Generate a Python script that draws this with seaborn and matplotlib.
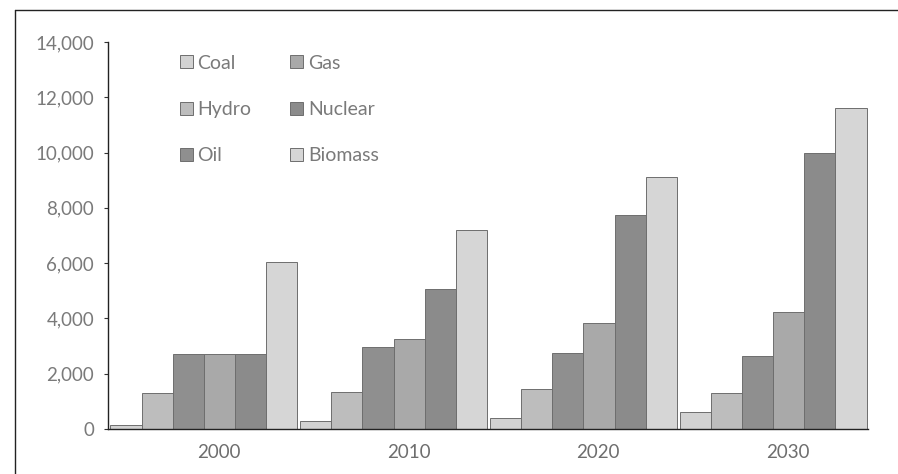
import matplotlib
matplotlib.use("Agg")
import matplotlib.pyplot as plt
import matplotlib.transforms as mtransforms
from matplotlib.lines import Line2D
import pandas as pd
import seaborn as sns

years = ["2000", "2010", "2020", "2030"]
sources = ["Coal", "Hydro", "Oil", "Gas", "Nuclear", "Biomass"]
coal = [150, 300, 400, 600]
hydro = [1300, 1350, 1450, 1300]
oil = [2700, 2950, 2750, 2650]
gas = [2700, 3250, 3850, 4250]
nuclear = [2700, 5050, 7750, 10000]
biomass = [6050, 7200, 9100, 11600]
y_ticks = [0, 2000, 4000, 6000, 8000, 10000, 12000, 14000]
shades = ["#d2d2d2", "#bdbdbd", "#8f8f8f", "#a9a9a9", "#8b8b8b", "#d6d6d6"]

series = [coal, hydro, oil, gas, nuclear, biomass]
df = pd.DataFrame(
    [(y, s, v) for s, vals in zip(sources, series) for y, v in zip(years, vals)],
    columns=["year", "source", "value"],
)

sns.set_theme(style="white")
plt.rcParams["font.family"] = ["Lato", "DejaVu Sans"]

fig = plt.figure(figsize=(8.98, 4.74), dpi=100)
ax = fig.add_axes([108 / 898, 1 - 429 / 474, 760 / 898, 387 / 474])

sns.barplot(
    data=df, x="year", y="value", hue="source", order=years, hue_order=sources,
    palette=shades, width=0.985, gap=0, edgecolor="#6e6e6e", linewidth=0.7,
    saturation=1, ax=ax,
)

ax.set_xlim(-0.505, 3.5)
ax.set_ylim(0, 14000)
ax.set_yticks(y_ticks)
ax.set_yticklabels([f"{t:,}" for t in y_ticks])
ax.set_xlabel("")
ax.set_ylabel("")

for side in ("top", "right"):
    ax.spines[side].set_visible(False)
for side in ("left", "bottom"):
    ax.spines[side].set_color("#222222")
    ax.spines[side].set_linewidth(1.0)

ax.tick_params(axis="y", which="major", left=True, length=3, width=0.8,
               color="#333333", direction="out", pad=7,
               labelsize=13.5, labelcolor="#7a7a7a")
ax.tick_params(axis="x", length=0, pad=11, labelsize=13.5, labelcolor="#6e6e6e")

# year labels sit slightly right of the group centres
shift = mtransforms.ScaledTranslation(15 / 100, 0, fig.dpi_scale_trans)
for lbl in ax.get_xticklabels():
    lbl.set_transform(lbl.get_transform() + shift)

handles, labels = ax.get_legend_handles_labels()
ax.legend(
    handles, labels, ncol=2, frameon=False, loc="upper left",
    bbox_to_anchor=(0.082, 0.992), borderpad=0, fontsize=14,
    labelcolor="#7a7a7a", handlelength=0.65, handleheight=0.65,
    handletextpad=0.25, columnspacing=2.0, labelspacing=1.5,
)

# outer frame of the figure panel
fig.add_artist(Line2D([15 / 898, 15 / 898], [0, 1 - 10 / 474],
                      transform=fig.transFigure, color="#222222", lw=1.0))
fig.add_artist(Line2D([15 / 898, 1], [1 - 10 / 474, 1 - 10 / 474],
                      transform=fig.transFigure, color="#222222", lw=1.0))

fig.savefig("out.png", dpi=100)
